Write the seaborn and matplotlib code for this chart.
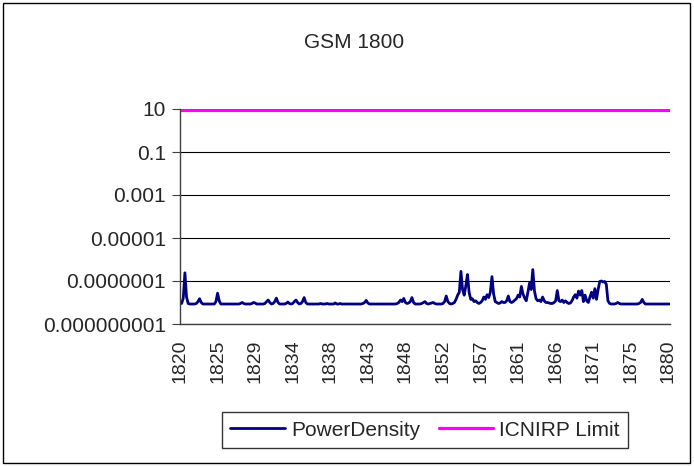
import numpy as np
import pandas as pd
import matplotlib
matplotlib.use("Agg")
import matplotlib.pyplot as plt
import seaborn as sns
from matplotlib.patches import Rectangle

# frequency grid of the scan (MHz), one category per 0.2 MHz step
freq_mhz = np.round(np.linspace(1820, 1880, 301), 1)

power_density_n = [
    9, 9, 16, 240, 18, 9, 8.5, 8.5, 8.5, 8.5, 9, 11, 15, 10, 8.5, 8.5, 8.5, 8.5, 8.5, 8.5,
    8.5, 8.5, 11, 27, 12, 8.5, 8.5, 8.5, 8.5, 8.5, 8.5, 8.5, 8.5, 8.5, 8.5, 8.5, 8.5, 9, 10, 9,
    8.5, 8.5, 8.5, 8.5, 9, 10, 9.5, 8.5, 8.5, 8.5, 8.5, 8.5, 9, 11, 13, 10, 8.5, 9, 11, 16,
    10, 8.5, 8.5, 8.5, 8.5, 9, 10.5, 9, 8.5, 9, 11, 13, 10, 8.5, 9, 11, 17, 10, 8.5, 8.5,
    8.5, 8.5, 8.5, 8.5, 8.5, 8.5, 9, 8.5, 8.5, 8.5, 9, 8.5, 8.5, 8.5, 8.5, 9.5, 8.5, 8.5, 9, 8.5,
    8.5, 8.5, 8.5, 8.5, 8.5, 8.5, 8.5, 8.5, 8.5, 8.5, 8.5, 8.5, 9, 10, 12.5, 9.5, 8.5, 8.5, 8.5, 8.5,
    8.5, 8.5, 8.5, 8.5, 8.5, 8.5, 8.5, 8.5, 8.5, 8.5, 8.5, 8.5, 8.5, 9, 10, 13, 11, 15.5, 10, 9,
    9.5, 11, 17, 10, 8.5, 8.5, 8.5, 8.5, 9, 10, 11, 9, 8.5, 9, 9.5, 10, 9, 8.5, 8.5, 8.5,
    8.5, 9, 11, 20, 11, 9, 8.5, 9, 10, 14, 22, 30, 280, 40, 22, 60, 200, 30, 14, 15,
    11, 12, 10, 9, 10, 12, 18, 14, 23, 17, 30, 160, 25, 11, 10, 9, 9.5, 11, 10, 10,
    12, 20, 11, 10, 11, 13, 15, 22, 18, 56, 25, 16, 12, 30, 80, 40, 340, 35, 15, 12,
    13, 11, 18, 12, 10, 10, 9.5, 9, 9, 10, 12, 36, 12, 11, 13, 10, 12, 10, 9, 9.5,
    12, 18, 23, 16, 34, 22, 36, 11, 22, 12, 10, 18, 30, 16, 44, 14, 40, 95, 100, 90,
    95, 70, 12, 9, 8.5, 8.5, 8.5, 9, 10, 9, 8.5, 8.5, 8.5, 8.5, 8.5, 8.5, 8.5, 8.5, 8.5, 8.5,
    8.5, 9, 10, 14, 10, 8.5, 8.5, 8.5, 8.5, 8.5, 8.5, 8.5, 8.5, 8.5, 8.5, 8.5, 8.5, 8.5, 8.5, 8.5,
    8.5,
]
icnirp_limit = 9.0  # W/m2 at 1800 MHz

x_tick_labels = ["1820", "1825", "1829", "1834", "1838", "1843", "1848",
                 "1852", "1857", "1861", "1866", "1871", "1875", "1880"]
y_ticks = [1e-9, 1e-7, 1e-5, 1e-3, 1e-1, 10]
y_tick_labels = ["0.000000001", "0.0000001", "0.00001", "0.001", "0.1", "10"]

n = len(freq_mhz)
df = pd.DataFrame({
    "idx": np.arange(n),
    "freq": freq_mhz,
    "PowerDensity": np.array(power_density_n) * 1e-9,
    "ICNIRP Limit": [icnirp_limit] * n,
})

sns.set_style("white")
plt.rcParams["font.family"] = ["Liberation Sans", "DejaVu Sans"]

fig = plt.figure(figsize=(6.94, 4.66), dpi=100)
ax = fig.add_axes([180 / 694, 1 - 324 / 466, 490 / 694, 215 / 466])

sns.lineplot(data=df, x="idx", y="PowerDensity", ax=ax, color="#000080",
             linewidth=2.0, label="PowerDensity", legend=False)
sns.lineplot(data=df, x="idx", y="ICNIRP Limit", ax=ax, color="#FF00FF",
             linewidth=2.3, label="ICNIRP Limit", legend=False)

ax.set_yscale("log")
ax.set_ylim(1e-9, 10)
ax.set_xlim(0, n - 1)
ax.set_yticks(y_ticks)
ax.set_yticklabels(y_tick_labels)
ax.minorticks_off()
ax.set_xticks(np.arange(0, n, 23))
ax.set_xticklabels(x_tick_labels, rotation=90)
ax.set_xticks(np.arange(n), minor=True)
ax.tick_params(axis="x", which="both", direction="out", length=5, width=0.7,
               color="#404040", labelsize=14, pad=6)
ax.tick_params(axis="y", which="major", direction="out", length=6, width=0.8,
               color="#404040", labelsize=15, left=True, pad=4)
ax.tick_params(axis="y", which="minor", left=False)
ax.set_xlabel("")
ax.set_ylabel("")

ax.grid(axis="y", color="black", linewidth=0.8)
ax.set_axisbelow(True)
for side in ["top", "right"]:
    ax.spines[side].set_visible(False)
ax.spines["left"].set_color("#404040")
ax.spines["bottom"].set_color("#404040")
ax.spines["left"].set_linewidth(1.0)
ax.spines["bottom"].set_linewidth(1.0)

fig.text(354 / 694, 1 - 42 / 466, "GSM 1800", ha="center", va="center", fontsize=15)

handles, labels = ax.get_legend_handles_labels()
leg = fig.legend(handles, labels, loc="center", bbox_to_anchor=(425 / 694, 1 - 430 / 466),
                 ncol=2, frameon=True, fancybox=False, fontsize=15,
                 handlelength=2.6, handletextpad=0.3, columnspacing=0.9,
                 borderpad=0.4, borderaxespad=0)
leg.get_frame().set_edgecolor("black")
leg.get_frame().set_linewidth(1.0)

fig.patches.append(Rectangle((3 / 694, 3 / 466), 687 / 694, 460 / 466, transform=fig.transFigure,
                             fill=False, edgecolor="black", linewidth=1.0))

fig.savefig("out.png", dpi=100)
